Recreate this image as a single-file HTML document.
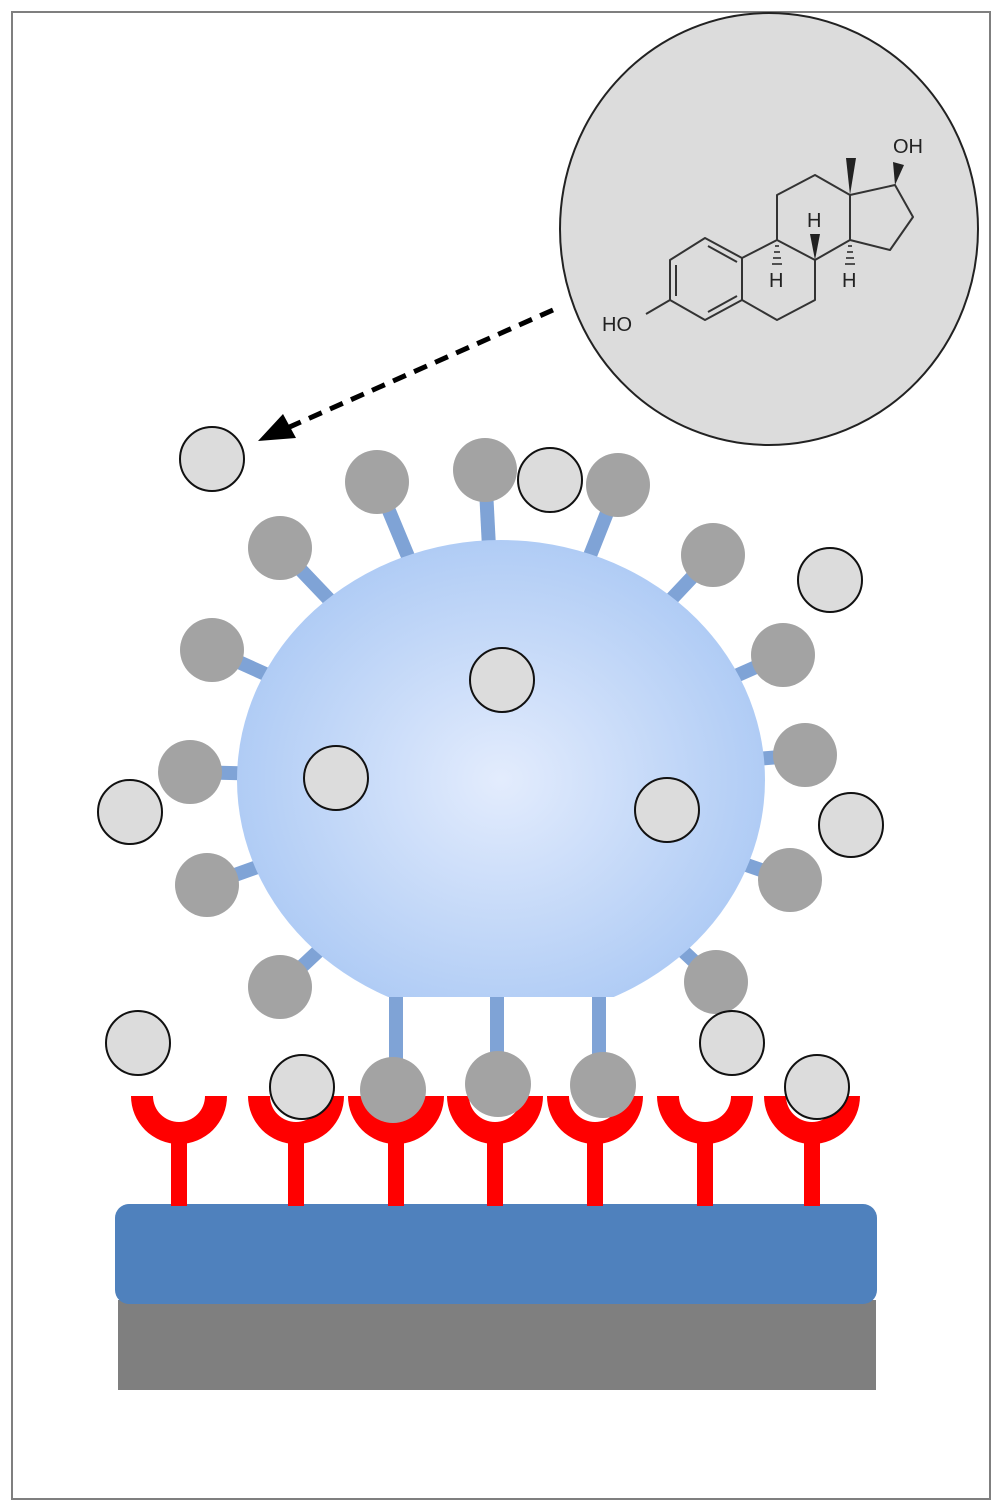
<!DOCTYPE html>
<html><head><meta charset="utf-8"><style>html,body{margin:0;padding:0;background:#fff}svg{display:block}</style></head>
<body>
<svg width="1000" height="1511" viewBox="0 0 1000 1511" xmlns="http://www.w3.org/2000/svg">
<defs>
<radialGradient id="g" cx="0.5" cy="0.5" r="0.5">
<stop offset="0" stop-color="#e3ecfd"/><stop offset="1" stop-color="#b0ccf5"/></radialGradient>
<clipPath id="cb"><rect x="0" y="0" width="1000" height="997"/></clipPath>
</defs>
<rect x="12" y="12" width="978" height="1487" fill="#fff" stroke="#7f7f7f" stroke-width="2"/>

<!-- molecule circle -->
<ellipse cx="769" cy="229" rx="209" ry="216" fill="#dcdcdc" stroke="#222" stroke-width="2"/>
<g stroke="#333" stroke-width="2" fill="none" stroke-linejoin="round">
<polygon points="705,238 742,258 742,300 705,320 670,300 670,260"/>
<line x1="676" y1="265" x2="676" y2="296"/>
<line x1="708" y1="246" x2="737" y2="262"/>
<line x1="708" y1="312" x2="737" y2="296"/>
<polyline points="742,258 777,240 815,260 815,300 777,320 742,300"/>
<polyline points="777,240 777,195 815,175 850,195 850,240 815,260"/>
<polyline points="850,195 895,185 913,217 890,250 850,240"/>
<line x1="670" y1="300" x2="646" y2="314"/>
</g>
<polygon points="850,195 846,158 856,158" fill="#222"/>
<polygon points="895,185 893,162 904,165" fill="#222"/>
<polygon points="815,260 810,234 820,234" fill="#222"/>
<g stroke="#222" stroke-width="1.5">
<line x1="775" y1="246" x2="779" y2="246"/><line x1="774" y1="252" x2="780" y2="252"/><line x1="773" y1="258" x2="781" y2="258"/><line x1="772" y1="264" x2="782" y2="264"/>
<line x1="848" y1="246" x2="852" y2="246"/><line x1="847" y1="252" x2="853" y2="252"/><line x1="846" y1="258" x2="854" y2="258"/><line x1="845" y1="264" x2="855" y2="264"/>
</g>
<g font-family="Liberation Sans, sans-serif" font-size="20" fill="#222">
<text x="893" y="153">OH</text>
<text x="602" y="331">HO</text>
<text x="807" y="227">H</text>
<text x="769" y="287">H</text>
<text x="842" y="287">H</text>
</g>

<!-- dashed arrow -->
<line x1="553" y1="310" x2="285" y2="429" stroke="#000" stroke-width="5" stroke-dasharray="14,9"/>
<polygon points="258,441 283,414 296,438" fill="#000"/>

<!-- stems -->
<g stroke="#7fa3d6" stroke-width="14">
<line x1="501" y1="780" x2="377" y2="482"/>
<line x1="501" y1="780" x2="485" y2="470"/>
<line x1="501" y1="780" x2="618" y2="485"/>
<line x1="501" y1="780" x2="713" y2="555"/>
<line x1="501" y1="780" x2="783" y2="655"/>
<line x1="501" y1="780" x2="805" y2="755"/>
<line x1="501" y1="780" x2="790" y2="880"/>
<line x1="501" y1="780" x2="716" y2="982"/>
<line x1="501" y1="780" x2="280" y2="548"/>
<line x1="501" y1="780" x2="212" y2="650"/>
<line x1="501" y1="780" x2="190" y2="772"/>
<line x1="501" y1="780" x2="207" y2="885"/>
<line x1="501" y1="780" x2="280" y2="987"/>
<line x1="396" y1="990" x2="396" y2="1080"/>
<line x1="497" y1="990" x2="497" y2="1080"/>
<line x1="599" y1="990" x2="599" y2="1080"/>
</g>
<g fill="#a3a3a3">
<circle cx="377" cy="482" r="32"/><circle cx="485" cy="470" r="32"/><circle cx="618" cy="485" r="32"/>
<circle cx="713" cy="555" r="32"/><circle cx="783" cy="655" r="32"/><circle cx="805" cy="755" r="32"/>
<circle cx="790" cy="880" r="32"/><circle cx="716" cy="982" r="32"/><circle cx="280" cy="548" r="32"/>
<circle cx="212" cy="650" r="32"/><circle cx="190" cy="772" r="32"/><circle cx="207" cy="885" r="32"/>
<circle cx="280" cy="987" r="32"/>
</g>
<!-- sphere -->
<ellipse cx="501" cy="780" rx="264" ry="240" fill="url(#g)" clip-path="url(#cb)"/>

<!-- substrate -->
<rect x="118" y="1300" width="758" height="90" fill="#7f7f7f"/>
<rect x="115" y="1204" width="762" height="100" rx="14" fill="#4f81bd"/>

<!-- receptors -->
<g fill="#ff0000">
<g id="y1"><path d="M131,1096 A48,48 0 0 0 227,1096 L205,1096 A26,26 0 0 1 153,1096 Z"/><rect x="171" y="1136" width="16" height="70"/></g>
<use href="#y1" x="117"/><use href="#y1" x="217"/><use href="#y1" x="316"/><use href="#y1" x="416"/><use href="#y1" x="526"/><use href="#y1" x="633"/>
</g>
<g fill="#a3a3a3">
<circle cx="393" cy="1090" r="33"/><circle cx="498" cy="1084" r="33"/><circle cx="603" cy="1085" r="33"/>
</g>

<!-- free analyte circles -->
<g fill="#dcdcdc" stroke="#111" stroke-width="2">
<circle cx="212" cy="459" r="32"/><circle cx="550" cy="480" r="32"/><circle cx="830" cy="580" r="32"/>
<circle cx="502" cy="680" r="32"/><circle cx="336" cy="778" r="32"/><circle cx="667" cy="810" r="32"/>
<circle cx="130" cy="812" r="32"/><circle cx="851" cy="825" r="32"/><circle cx="138" cy="1043" r="32"/>
<circle cx="732" cy="1043" r="32"/><circle cx="302" cy="1087" r="32"/><circle cx="817" cy="1087" r="32"/>
</g>
</svg>
</body></html>
